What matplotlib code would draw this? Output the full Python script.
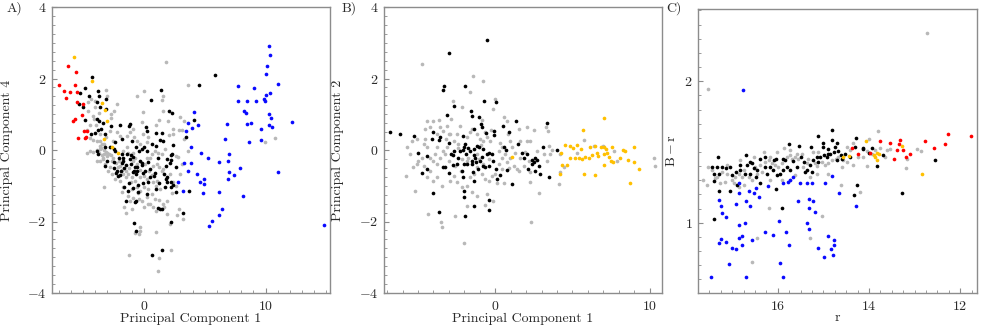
import matplotlib
matplotlib.use("Agg")
import matplotlib.pyplot as plt
from matplotlib.ticker import MultipleLocator

plt.rcParams['font.family'] = 'serif'
plt.rcParams['font.serif'] = ['cmr10']
plt.rcParams['mathtext.fontset'] = 'cm'
plt.rcParams['axes.formatter.use_mathtext'] = True

# ---------------- Panel A : PC1 vs PC4 ----------------
a_blue_x = [10.25, 10.36, 10.08, 10.03, 10.99, 7.75, 9.07, 10.36, 10.00, 9.86, 9.97, 7.73, 8.44, 9.21, 8.25,
            8.41, 10.25, 10.47, 12.16, 6.85, 8.44, 8.79, 10.25, 10.52, 9.64, 4.11, 3.64, 3.92, 4.41, 3.42,
            6.68, 8.60, 9.59, 3.86, 4.66, 6.99, 5.26, 6.88, 3.29, 3.89, 6.19, 7.92, 10.99, 3.59, 4.36,
            6.96, 7.42, 6.90, 2.82, 4.93, 4.58, 4.90, 3.18, 4.88, 6.16, 8.16, 6.38, 6.14, 5.62, 5.34, 14.82]
a_blue_y = [2.92, 2.66, 2.36, 2.12, 1.86, 1.80, 1.73, 1.59, 1.54, 1.44, 1.36, 1.38, 1.38, 1.36, 1.09,
            1.04, 1.01, 0.89, 0.79, 0.73, 0.73, 0.75, 0.70, 0.65, 0.58, 1.07, 0.75, 0.62, 0.70, 0.52,
            0.31, 0.23, 0.28, 0.09, -0.09, -0.12, -0.22, -0.30, -0.37, -0.37, -0.34, -0.51, -0.62, -0.58, -0.66,
            -0.62, -0.69, -0.81, -0.89, -0.82, -0.89, -0.95, -1.16, -1.20, -1.18, -1.28, -1.64, -1.81, -1.99, -2.13, -2.10]

a_red_x = [-6.27, -5.62, -7.01, -6.58, -6.11, -5.64, -5.51, -6.38, -5.53, -4.99, -5.10, -5.70, -5.86, -4.93, -4.66, -4.79, -5.45, -4.85]
a_red_y = [2.35, 2.19, 1.82, 1.66, 1.61, 1.82, 1.63, 1.45, 1.33, 1.29, 0.99, 0.87, 0.82, 0.54, 0.54, 0.37, 0.34, 0.34]

a_yellow_x = [-5.75, -4.27, -3.45, -3.23, -3.07, -3.32, -2.66, -2.11]
a_yellow_y = [2.61, 1.92, 1.31, 1.13, 0.82, 0.31, 0.09, -0.07]

a_black_x = [-4.25, 5.84, 4.52, 1.42, 0.58, -4.85, -5.23, -3.75, -4.49, -3.67, -3.12, -5.34, -4.99, -3.89, -3.62,
             -3.15, -4.88, -3.89, -3.67, -3.34, -2.71, -1.97, -1.23, -1.15, -3.53, -3.78, -4.03, -4.38, -3.18, 2.05,
             2.33, 4.14, 3.48, 0.16, 0.27, 0.99, 1.48, -1.78, -2.38, -1.01, 1.32, 1.53, 0.63, 0.99, 0.00,
             -0.14, 2.41, 2.30, 2.19, 2.22, 0.27, -0.66, -0.41, -2.36, -2.47, -3.89, -3.78, -3.18, -2.79, -0.93,
             -1.07, -1.42, -1.84, -3.01, -2.44, -2.05, -1.70, -1.73, -1.84, -1.10, -1.15, -0.30, -0.19, -0.16, 0.36,
             1.15, 1.86, 1.81, 2.16, 2.63, -0.55, -0.74, -0.60, -0.88, -3.18, -2.47, -2.30, -2.16, -1.97, -2.25,
             -1.92, -1.64, -1.48, -0.82, -0.68, -0.05, 0.08, 0.49, 0.93, 0.82, 0.49, 0.36, -0.05, 1.67, 1.86,
             1.81, 1.92, 2.22, -1.21, -1.62, -1.34, -0.93, -0.52, -0.47, 0.22, 1.23, 1.73, 2.25, 2.41, 2.63,
             3.73, 0.96, -1.48, -0.77, -0.66, 1.18, 1.32, 1.45, 3.21, 2.19, -0.82, -0.68, 0.68, 1.51]
a_black_y = [2.05, 2.10, 1.83, 1.68, 1.40, 1.73, 1.60, 1.66, 1.50, 1.50, 1.42, 1.28, 1.19, 1.35, 1.19,
             1.16, 0.85, 0.87, 0.82, 0.75, 0.68, 0.70, 0.68, 0.73, 0.59, 0.57, 0.47, 0.45, 0.44, 1.09,
             1.03, 0.85, 0.35, 0.63, 0.54, 0.47, 0.47, 0.31, 0.21, 0.26, 0.28, 0.24, 0.17, 0.12, 0.07,
             0.04, 0.15, -0.11, -0.13, -0.28, -0.02, 0.07, -0.02, -0.04, 0.02, -0.04, -0.11, 0.09, 0.07, -0.19,
             -0.14, -0.11, -0.11, -0.30, -0.34, -0.23, -0.21, -0.30, -0.37, -0.39, -0.25, -0.30, -0.35, -0.41, -0.33,
             -0.21, -0.25, -0.46, -0.36, -0.48, -0.48, -0.48, -0.58, -0.62, -0.44, -0.50, -0.64, -0.74, -0.69, -0.58,
             -0.58, -0.51, -0.42, -0.60, -0.67, -0.65, -0.58, -0.53, -0.63, -0.72, -0.76, -0.90, -0.93, -0.67, -0.75,
             -0.81, -0.90, -0.89, -0.91, -1.03, -1.16, -1.06, -1.18, -0.97, -1.23, -0.91, -1.03, -1.04, -0.98, -1.18,
             -1.14, -1.09, -1.44, -1.46, -1.44, -1.62, -1.65, -1.65, -1.77, -2.00, -2.04, -2.26, -2.93, -2.80]

a_gray_x = [1.81, 3.64, -3.15, 0.00, -0.60, 1.53, 1.51, -2.25, -4.38, -3.99, -2.71, -2.49, -0.11, 1.56, 2.96,
            3.32, 3.12, 2.88, 2.36, 2.00, 1.21, 0.99, -0.19, -0.88, -0.79, -0.05, 0.36, 2.03, 2.41, 9.97,
            10.79, 3.64, 3.10, 2.63, -3.73, -4.16, -4.44, -3.97, -4.66, -4.44, -4.16, -4.66, -4.44, -3.62, -3.48,
            -3.12, -2.82, -2.52, -2.25, -1.97, -1.42, -1.15, -3.29, -3.07, -3.48, -3.34, -3.01, -2.68, -3.62, -3.21,
            -2.79, -2.66, -3.29, -1.97, -1.84, -1.70, -1.48, -1.29, -1.01, -0.74, -0.33, 0.00, 0.22, 0.77, 1.04,
            1.45, 1.26, 1.53, 0.77, 0.22, 0.63, 0.90, 1.18, 1.45, 1.73, 0.22, -0.33, -0.60, -1.42, -1.70,
            -2.11, -2.52, -1.70, -1.10, -0.60, -0.33, 0.00, 0.30, 0.63, 0.90, 1.21, 1.53, 1.67, -0.88, -1.15,
            -0.38, -0.16, 0.22, -1.48, -1.62, -1.01, 0.00, 0.36, 0.77, 1.86, 2.68, -0.33, -0.33, -0.74, -0.38,
            0.99, 2.19, -1.21, 1.23, 1.18, 3.18, 2.88, 2.14, -0.93, -2.03, -2.38, -2.93, -3.89, -3.62, -4.08,
            -4.63, -3.29, -3.62, 0.49, 1.04, 2.14, 2.41, 2.96, 1.86, -0.74, -1.29, -3.89,
            -4.20, -3.90, -3.70, -3.50, -3.30, -3.10, -2.90, -3.60, -3.40, -2.60, -2.30, -2.00, -1.80, -1.50, -1.20,
            -0.90, -0.60, -0.30, 0.10, 0.40, 0.70, 1.00, 1.30, -0.50, -1.00, -1.30, 0.50, 1.00, 2.30, 2.60,
            2.80, 3.30, -2.70, -3.00, -4.00, -4.60]
a_gray_y = [2.47, 1.82, 1.68, 1.66, 1.50, 1.52, 1.40, 1.30, 1.43, 1.38, 1.01, 1.10, 1.05, 1.10, 0.91,
            0.82, 0.57, 0.57, 0.59, 0.82, 0.84, 0.71, 0.77, 0.59, 0.35, 0.45, 0.35, 0.42, 0.45, 0.21,
            0.34, -0.02, -0.39, -0.17, 1.03, 0.96, 0.71, 0.71, 0.56, 0.33, 0.28, -0.07, -0.02, 0.26, 0.17,
            0.35, 0.52, 0.26, 0.49, 0.40, 0.40, 0.49, 0.01, -0.07, -0.13, -0.21, -0.16, -0.14, -0.30, -0.39,
            -0.48, -0.67, -1.03, -0.86, -1.18, -1.04, -0.76, -0.67, -0.76, -0.86, -0.76, -0.72, -0.81, -0.90, -0.86,
            -0.58, -0.48, -0.53, -0.44, -0.21, -0.11, -0.02, -0.07, -0.11, 0.03, 0.21, 0.17, 0.26, 0.07, -0.02,
            -0.48, -0.21, -0.67, -0.90, -1.04, -1.14, -1.04, -1.09, -1.23, -1.37, -1.40, -1.51, -1.60, -1.34, -1.42,
            -1.38, -1.42, -1.32, -1.76, -1.60, -1.65, -1.60, -1.51, -1.60, -1.79, -1.82, -2.16, -2.26, -2.32, -2.35,
            -2.30, -2.80, -2.95, -3.03, -3.39, -1.93, -1.65, -2.07, -0.07, -0.30, -0.81, -0.58, 0.26, 0.45, 0.87,
            1.10, 0.17, 0.03, -0.21, -0.39, -0.67, -0.90, -0.67, -1.42, -0.21, -0.07, -0.30,
            -0.05, 0.00, -0.08, 0.05, -0.10, -0.05, -0.12, 0.12, -0.25, -0.30, -0.35, -0.45, -0.55, -0.60, -0.50,
            -0.30, -0.40, -0.55, -0.40, -0.60, -0.70, -1.00, -1.10, -1.20, -1.10, -1.30, -1.50, -1.70, -1.20, -1.00,
            -0.20, 0.30, 0.90, 1.50, 1.20, 1.35]

# ---------------- Panel B : PC1 vs PC2 ----------------
b_yellow_x = [7.02, 5.66, 4.54, 4.25, 4.82, 5.01, 5.29, 5.55, 6.16, 6.48, 6.85, 7.06, 7.19, 7.56, 8.27,
              8.38, 8.96, 4.82, 5.18, 5.40, 5.62, 5.83, 6.05, 6.26, 6.59, 6.65, 7.02, 7.24, 7.34, 7.52,
              7.62, 8.10, 8.60, 9.01, 9.33, 4.34, 4.64, 4.21, 5.75, 6.44, 7.02, 8.75, 1.08]
b_yellow_y = [0.89, 0.56, 0.15, -0.09, 0.11, 0.05, 0.14, 0.04, 0.09, 0.12, 0.07, 0.07, 0.03, 0.07, 0.00,
              -0.02, 0.07, -0.21, -0.21, -0.21, -0.25, -0.20, -0.21, -0.15, -0.09, -0.18, -0.11, -0.07, -0.19, -0.32,
              -0.34, -0.22, -0.27, -0.34, -0.53, -0.42, -0.42, -0.67, -0.66, -0.69, -0.41, -0.93, -0.19]

b_black_x = [-0.56, -3.00, -3.41, -3.30, -1.94, -2.70, 0.06, -1.56, -1.53, -3.13, -0.71, -1.02, -0.93, -0.86, -1.40,
             -0.58, -0.11, -0.06, 0.50, 0.91, 1.32, 3.33, 3.09, 4.00, -6.83, -6.16, -5.25, -5.03, -4.43, -4.10,
             -4.00, -3.67, -3.59, -3.00, -2.74, -2.66, -2.76, -3.24, -3.35, -2.96, -2.40, -2.05, -2.10, -1.94, -1.92,
             -1.73, -1.62, -1.40, -1.19, -1.02, -0.76, -0.54, -0.37, -0.22, -0.86, -1.36, -1.30, -1.51, -1.23, -0.97,
             -1.51, -1.45, -1.40, -2.05, -1.84, -2.14, -2.10, -2.05, -1.99, -1.40, -0.37, -0.37, -1.94, -3.61, -4.04,
             -4.75, -4.43, 0.60, 0.69, 1.45, 1.73, 1.84, 2.05, 2.38, 2.38, 2.59, 2.70, 2.81, 2.92, 3.46,
             2.59, 2.53, 2.10, 1.08, 0.28, 0.11, 0.06, 0.76, -0.17, -0.69, -0.82, -1.14, -0.37, -2.10, -2.27,
             -2.87, -2.48]
b_black_y = [3.08, 2.71, 1.68, 1.80, 1.79, 1.24, 1.33, 1.10, 0.95, 0.99, 1.36, 0.91, 0.73, 0.65, 0.59,
             0.48, 0.52, 0.43, 0.68, 0.51, 0.80, 0.75, 0.09, 0.01, 0.49, 0.45, 0.39, -0.07, -0.18, 0.30,
             0.51, 0.28, 0.35, 0.19, -0.15, -0.02, -0.42, -0.47, -0.48, -0.63, -0.21, 0.07, 0.00, 0.17, -0.11,
             0.05, -0.02, 0.03, 0.10, 0.09, 0.03, -0.11, -0.07, -0.11, -0.19, -0.13, -0.21, -0.32, -0.34, -0.30,
             -0.39, -0.62, -0.86, -0.39, -0.39, -0.58, -0.76, -1.14, -1.32, -1.56, -1.39, -1.68, -1.84, -1.73, -1.21,
             -0.64, -0.53, 0.07, 0.00, 0.17, -0.07, -0.21, -0.11, -0.28, -0.39, -0.21, -0.27, -0.44, -0.67, -0.75,
             -0.58, -0.34, -0.53, -0.95, -0.69, -0.81, -0.53, -0.55, -0.30, -0.48, -0.46, -0.53, -0.45, 0.40, -0.02,
             -0.11, -0.39]

b_gray_x = [-4.75, -1.45, -0.76, -1.62, -2.74, -2.16, -0.17, 0.00, -4.43, -3.67, -3.13, -2.87, -2.27, -0.86, 0.54,
            0.76, 1.51, 2.05, 2.48, 3.30, 3.39, 3.46, 3.56, 2.27, 1.62, 1.08, 0.43, 0.22, 0.97, 1.19,
            1.51, 1.84, 2.27, 2.81, 2.33, 4.10, 4.21, 4.17, 4.43, 5.72, 6.37, 6.98, 7.67, 7.88, 10.26,
            10.37, 5.29, -5.72, -5.77, -5.18, -4.32, -3.50, -3.46, -2.59, -2.01, -1.84, -1.51, -1.19, -0.63, -0.13,
            0.11, 0.54, -0.54, -5.08, -4.21, -3.78, -4.64, -4.43, -4.21, -4.00, -3.78, -3.56, -3.35, -3.13, -4.21,
            -4.43, -4.00, -3.78, -3.46, -2.92, -2.70, -2.48, -2.16, -1.84, -1.62, -1.40, -1.19, -0.86, -0.65, -0.43,
            -0.22, 0.00, 0.22, 0.43, 0.65, -0.32, -0.54, -0.76, -0.97, -1.19, -1.84, -1.62, -2.48, -2.70, -2.92,
            -3.35, -3.56, -4.00, -4.54, -4.75, -4.97, -5.29, -5.51, -3.78, -3.24, -2.16, -1.73, -1.08, -0.76, 0.97,
            1.30, 1.62, 2.05, 2.70, 3.13, 3.35, 2.27, 1.40, 0.76, 0.43, -0.65, -2.38, -3.02, -5.08, -4.54,
            -3.00, -2.60, -2.20, -1.80, -1.20, -0.90, -0.40, 0.30, 0.90, -3.90, -4.60, -5.40, -3.20, -2.40, -1.50,
            -0.30, 0.80, 1.90, 2.20, 3.70]
b_gray_y = [2.40, 2.08, 1.94, 1.61, 1.38, 1.19, 1.15, 1.43, 0.82, 0.84, 0.68, 0.86, 0.68, 0.84, 0.91,
            0.82, 0.59, 0.65, 0.56, 0.63, 0.52, 0.12, -0.11, 0.26, 0.26, 0.07, 0.07, -0.02, -0.21, -0.44,
            -0.58, -0.44, -0.62, -1.21, -2.01, -0.95, -0.11, -0.62, -0.48, 0.28, 0.10, 0.10, -0.02, -0.30, -0.22,
            -0.46, -0.07, 0.07, -0.72, -1.14, -1.79, -2.02, -2.16, -1.86, -2.61, -1.56, -1.18, -1.30, -1.53, -1.42,
            -0.93, -0.93, -1.23, 0.31, 0.63, 0.45, 0.17, 0.07, -0.21, -0.30, -0.39, -0.21, -0.02, 0.07, -0.58,
            -0.76, -0.86, -0.76, -1.00, -0.86, -0.72, -0.90, -1.04, -1.00, -0.76, -0.67, -0.48, -0.67, -0.81, -0.86,
            -0.72, -0.67, -0.39, -0.21, -0.11, 0.26, 0.35, 0.26, 0.31, 0.45, 0.35, 0.49, 0.45, 0.26, 0.45,
            0.54, 0.63, 0.82, 0.59, -0.21, -0.30, -0.48, -0.11, 0.07, -0.11, -0.25, -0.21, -0.25, -0.39, 0.26,
            -0.07, -0.21, 0.26, -0.02, -0.11, -0.30, -0.90, -0.53, -0.34, -0.53, 0.49, 0.17, 0.45, -0.39, 0.31,
            -0.30, -0.45, -0.60, -0.30, -0.10, 0.15, -0.25, 0.20, -0.50, -0.10, -0.45, 0.25, 0.30, 0.05, 0.60,
            0.55, 0.45, -0.05, -0.30, 0.00]

# ---------------- Panel C : r vs B - r ----------------
c_blue_r = [16.76, 15.66, 15.89, 15.74, 15.77, 15.51, 15.36, 15.26, 14.97, 14.82, 14.65, 14.28, 16.84, 16.21, 16.48,
            16.86, 16.64, 16.53, 16.42, 17.30, 17.25, 16.92, 16.70, 16.61, 15.56, 15.32, 15.22, 15.31, 15.18, 17.23,
            17.13, 16.86, 16.73, 15.97, 15.36, 15.31, 16.28, 16.10, 15.82, 16.86, 16.78, 17.25, 17.29, 17.13, 17.01,
            16.92, 16.78, 16.56, 15.76, 14.90, 14.76, 14.76, 14.79, 14.84, 15.11, 14.98, 17.07, 15.95, 17.46, 16.70, 15.89]
c_blue_br = [1.94, 1.325, 1.278, 1.30, 1.29, 1.278, 1.278, 1.278, 1.278, 1.33, 1.207, 1.118, 1.282, 1.259, 1.249,
             1.212, 1.226, 1.207, 1.184, 1.16, 1.118, 1.136, 1.155, 1.118, 1.155, 1.165, 1.153, 1.101, 1.073, 1.066,
             1.038, 0.984, 0.995, 1.014, 0.995, 0.953, 0.932, 0.913, 0.932, 0.894, 0.906, 0.885, 0.854, 0.866, 0.824,
             0.814, 0.842, 0.878, 0.842, 0.904, 0.878, 0.842, 0.772, 0.814, 0.824, 0.760, 0.706, 0.713, 0.616, 0.616, 0.616]

c_red_r = [14.38, 14.23, 13.97, 13.76, 13.54, 13.31, 13.35, 13.39, 13.26, 13.19, 13.11, 13.45, 12.78, 12.57, 12.33, 12.26, 11.76]
c_red_br = [1.527, 1.487, 1.494, 1.576, 1.567, 1.588, 1.555, 1.515, 1.515, 1.468, 1.487, 1.454, 1.576, 1.525, 1.555, 1.626, 1.614]

c_yellow_r = [14.07, 13.27, 13.90, 13.82, 13.78, 13.86, 13.83, 14.44, 14.58, 12.84]
c_yellow_br = [1.576, 1.541, 1.482, 1.494, 1.485, 1.466, 1.442, 1.471, 1.466, 1.344]

c_black_r = [17.39, 17.28, 17.32, 17.44, 17.34, 17.23, 17.40, 17.29, 17.40, 17.13, 17.05, 17.01, 16.90, 17.05, 16.69,
             16.68, 16.61, 16.53, 16.61, 16.72, 16.45, 16.48, 16.40, 16.28, 16.28, 16.24, 16.17, 16.08, 16.04, 16.10,
             16.02, 15.95, 15.89, 15.88, 15.85, 15.76, 15.53, 15.28, 15.11, 15.01, 14.98, 14.90, 14.81, 14.81, 14.74,
             14.67, 14.61, 14.52, 14.41, 14.29, 14.31, 14.14, 14.12, 14.01, 13.93, 13.83, 13.70, 12.56, 13.27, 14.27,
             14.32, 15.91, 16.04, 16.39, 15.36, 15.29, 15.22, 15.14, 15.07, 15.11, 15.49, 15.42, 15.66, 15.58, 15.73,
             15.80, 15.40, 15.25, 14.93, 14.85, 14.71, 14.60, 14.71, 15.00, 14.89, 14.76, 16.83, 16.83, 16.91, 16.56]
c_black_br = [1.024, 1.226, 1.468, 1.395, 1.393, 1.395, 1.348, 1.344, 1.294, 1.384, 1.395, 1.336, 1.266, 1.226, 1.478,
              1.407, 1.431, 1.384, 1.348, 1.348, 1.372, 1.325, 1.454, 1.466, 1.395, 1.348, 1.395, 1.442, 1.454, 1.372,
              1.336, 1.348, 1.372, 1.454, 1.442, 1.553, 1.544, 1.536, 1.616, 1.536, 1.478, 1.518, 1.588, 1.656, 1.536,
              1.506, 1.482, 1.489, 1.466, 1.598, 1.536, 1.527, 1.518, 1.494, 1.529, 1.400, 1.482, 1.445, 1.207, 1.266,
              1.193, 1.101, 1.242, 1.278, 1.372, 1.407, 1.442, 1.466, 1.466, 1.431, 1.466, 1.431, 1.435, 1.395, 1.372,
              1.395, 1.360, 1.360, 1.466, 1.485, 1.442, 1.447, 1.560, 1.560, 1.489, 1.501, 1.372, 1.407, 1.360, 1.419]

c_gray_r = [17.63, 17.56, 17.52, 17.45, 17.34, 17.23, 17.12, 17.01, 16.94, 16.86, 16.79, 16.75, 16.64, 16.57, 16.50,
            16.46, 16.39, 16.35, 16.28, 16.20, 16.17, 16.13, 16.06, 15.99, 15.91, 15.86, 15.80, 15.73, 15.69, 15.62,
            15.58, 15.55, 15.47, 15.44, 15.36, 15.33, 15.18, 15.13, 15.03, 14.96, 14.89, 14.82, 14.73, 14.67, 14.56,
            14.49, 14.41, 14.34, 14.23, 14.12, 14.05, 14.01, 13.94, 13.86, 13.76, 13.65, 13.61, 13.54, 14.62, 14.19,
            13.81, 13.17, 13.19, 12.95, 12.86, 12.72, 17.54, 15.03, 15.29, 16.19, 16.45, 16.57, 17.37, 17.27, 17.16,
            16.97, 16.86, 16.75, 15.73, 15.62, 15.29, 14.05, 14.60, 16.31, 16.53, 16.83, 17.12, 16.02, 15.73, 15.22,
            15.11, 14.49, 14.34, 14.89, 15.14, 15.91, 16.17]
c_gray_br = [1.299, 1.266, 1.395, 1.372, 1.325, 1.360, 1.348, 1.301, 1.325, 1.348, 1.325, 1.372, 1.325, 1.301, 1.395,
             1.348, 1.407, 1.360, 1.431, 1.442, 1.466, 1.419, 1.407, 1.395, 1.419, 1.525, 1.466, 1.478, 1.447, 1.466,
             1.489, 1.454, 1.489, 1.395, 1.419, 1.447, 1.419, 1.400, 1.431, 1.407, 1.419, 1.442, 1.447, 1.466, 1.442,
             1.431, 1.513, 1.407, 1.466, 1.466, 1.508, 1.595, 1.485, 1.513, 1.525, 1.466, 1.513, 1.518, 1.264, 1.214,
             1.647, 1.447, 1.388, 1.518, 1.508, 2.341, 1.948, 1.047, 0.894, 1.101, 0.894, 0.725, 1.313, 1.282, 1.289,
             1.282, 1.254, 1.266, 1.301, 1.336, 1.325, 1.402, 1.395, 1.501, 1.466, 1.442, 1.407, 1.501, 1.513, 1.501,
             1.501, 1.536, 1.560, 1.348, 1.348, 1.301, 1.301]

# ---------------- styling ----------------
GRAY = '#b8b8b8'
BLACK = '#000000'
BLUE = '#0a0aff'
RED = '#ff0000'
YELLOW = '#ffc000'
SPINE = '#8c8c8c'
TXT = '#2a2a2a'
MS = 7
LABEL_FS = 10

fig = plt.figure(figsize=(9.81, 3.27), dpi=100)
axA = fig.add_axes([52/981, 34/327, 278/981, 286/327])
axB = fig.add_axes([384/981, 34/327, 278/981, 286/327])
axC = fig.add_axes([698/981, 34/327, 279/981, 284/327])


def style(ax):
    for side in ['left', 'right', 'top', 'bottom']:
        ax.spines[side].set_color(SPINE)
        ax.spines[side].set_linewidth(1.0)
    ax.tick_params(which='both', direction='in', top=False, right=False,
                   color=SPINE, labelcolor=TXT, labelsize=10)
    ax.tick_params(which='major', length=3.5, width=0.8)
    ax.tick_params(which='minor', length=2, width=0.6)
    ax.tick_params(axis='x', pad=5)
    ax.tick_params(axis='y', pad=4)


def scatter_all(ax, groups):
    for xs, ys, c in groups:
        ax.scatter(xs, ys, s=MS, c=c, linewidths=0, zorder=3)


LABEL_Y = -0.068

# Panel A
scatter_all(axA, [(a_gray_x, a_gray_y, GRAY), (a_black_x, a_black_y, BLACK),
                  (a_blue_x, a_blue_y, BLUE), (a_red_x, a_red_y, RED),
                  (a_yellow_x, a_yellow_y, YELLOW)])
axA.set_xlim(-7.56, 15.3)
axA.set_ylim(-4, 4)
axA.xaxis.set_major_locator(MultipleLocator(10))
axA.xaxis.set_minor_locator(MultipleLocator(1))
axA.yaxis.set_major_locator(MultipleLocator(2))
axA.yaxis.set_minor_locator(MultipleLocator(0.25))
style(axA)
axA.set_xlabel('Principal Component 1', fontsize=LABEL_FS, color=TXT)
axA.set_ylabel('Principal Component 4', fontsize=LABEL_FS, color=TXT)
axA.xaxis.set_label_coords(0.5, LABEL_Y)
axA.yaxis.set_label_coords(-0.14, 0.5)

# Panel B
scatter_all(axB, [(b_gray_x, b_gray_y, GRAY), (b_black_x, b_black_y, BLACK),
                  (b_yellow_x, b_yellow_y, YELLOW)])
axB.set_xlim(-7.2, 10.8)
axB.set_ylim(-4, 4)
axB.xaxis.set_major_locator(MultipleLocator(10))
axB.xaxis.set_minor_locator(MultipleLocator(1))
axB.yaxis.set_major_locator(MultipleLocator(2))
axB.yaxis.set_minor_locator(MultipleLocator(0.25))
style(axB)
axB.set_xlabel('Principal Component 1', fontsize=LABEL_FS, color=TXT)
axB.set_ylabel('Principal Component 2', fontsize=LABEL_FS, color=TXT)
axB.xaxis.set_label_coords(0.5, LABEL_Y)
axB.yaxis.set_label_coords(-0.144, 0.5)

# Panel C
scatter_all(axC, [(c_gray_r, c_gray_br, GRAY), (c_black_r, c_black_br, BLACK),
                  (c_blue_r, c_blue_br, BLUE), (c_red_r, c_red_br, RED),
                  (c_yellow_r, c_yellow_br, YELLOW)])
axC.set_xlim(17.75, 11.63)
axC.set_ylim(0.504, 2.51)
axC.xaxis.set_major_locator(MultipleLocator(2))
axC.xaxis.set_minor_locator(MultipleLocator(0.25))
axC.yaxis.set_major_locator(MultipleLocator(1))
axC.yaxis.set_minor_locator(MultipleLocator(0.1))
style(axC)
axC.set_xlabel('r', fontsize=LABEL_FS, color=TXT)
axC.set_ylabel(r'$\mathrm{B}-\mathrm{r}$', fontsize=LABEL_FS, color=TXT)
axC.xaxis.set_label_coords(0.5, LABEL_Y)
axC.yaxis.set_label_coords(-0.072, 0.5)

# panel letters
fig.text(14/981, 1 - 8/327, 'A)', fontsize=10, color=TXT, ha='center', va='center')
fig.text(349/981, 1 - 8/327, 'B)', fontsize=10, color=TXT, ha='center', va='center')
fig.text(674/981, 1 - 8/327, 'C)', fontsize=10, color=TXT, ha='center', va='center')

fig.savefig('out.png', dpi=100)
